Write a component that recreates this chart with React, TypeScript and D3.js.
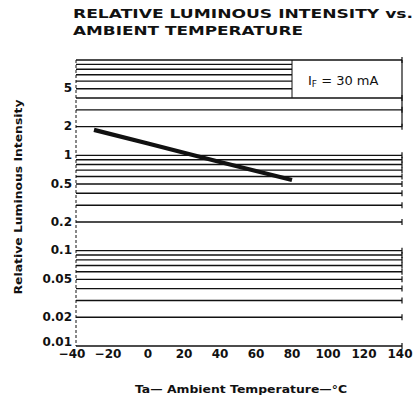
import React from "react";
import * as d3 from "d3";

const titleLines = ["RELATIVE LUMINOUS INTENSITY vs.", "AMBIENT TEMPERATURE"];
const xTicks = [-40, -20, 0, 20, 40, 60, 80, 100, 120, 140];
const yTickValues = [5, 2, 1, 0.5, 0.2, 0.1, 0.05, 0.02, 0.01];
const yTickLabels = ["5", "2", "1", "0.5", "0.2", "0.1", "0.05", "0.02", "0.01"];
const decades = [0.01, 0.1, 1];
const multipliers = [1, 2, 3, 4, 5, 6, 7, 8, 9];
const temps = [-30, 0, 40, 80];
const intensity = [1.85, 1.33, 0.85, 0.55];
const legendText = { main: "I", sub: "F", rest: " = 30 mA" };
const xTitle = "Ta\u2014 Ambient  Temperature\u2014\u00B0C";
const yTitle = "Relative Luminous Intensity";

const W = 420;
const H = 402;
const left = 76;
const right = 400;
const gridRight = 402;
const top = 60;
const bottom = 346;

export default function App() {
  const x = d3.scaleLinear().domain([-40, 140]).range([left, right]);
  const y = d3.scaleLog().domain([0.01, 10]).range([bottom, top]);

  const gridVals: number[] = [];
  decades.forEach((d) => multipliers.forEach((m) => gridVals.push(+(d * m).toPrecision(3))));
  gridVals.push(10);

  const boxX = x(80);
  const boxBottom = y(4);

  const line = d3
    .line<number>()
    .x((_, i) => x(temps[i]))
    .y((v) => y(v));

  const font = "'DejaVu Sans', Arial, sans-serif";

  return (
    <svg
      width={W}
      height={H}
      viewBox={`0 0 ${W} ${H}`}
      style={{ position: "absolute", left: 0, top: 0, background: "#fff" }}
    >
      <rect x={0} y={0} width={W} height={H} fill="#fff" />
      {/* Title */}
      <text x={73} y={17.5} fontFamily={font} fontWeight="bold" fontSize={12} textLength={340} lengthAdjust="spacingAndGlyphs" fill="#111">
        {titleLines[0]}
      </text>
      <text x={73} y={34.5} fontFamily={font} fontWeight="bold" fontSize={12} textLength={230} lengthAdjust="spacingAndGlyphs" fill="#111">
        {titleLines[1]}
      </text>

      {/* Grid lines */}
      {gridVals.map((v, i) => {
        const inBox = v > 4 && v < 10;
        return (
          <line
            key={i}
            x1={left}
            x2={inBox ? boxX : gridRight}
            y1={y(v)}
            y2={y(v)}
            stroke="#111"
            strokeWidth={1.4}
          />
        );
      })}
      {/* right end caps */}
      {gridVals.map((v, i) =>
        v > 4 && v < 10 ? null : (
          <line key={"c" + i} x1={gridRight} x2={gridRight} y1={y(v) - 3} y2={y(v) + 3} stroke="#111" strokeWidth={1.2} />
        )
      )}
      {/* legend box */}
      <line x1={boxX} x2={boxX} y1={y(10)} y2={boxBottom} stroke="#111" strokeWidth={1} />
      <line x1={gridRight} x2={gridRight} y1={y(10)} y2={y(2)} stroke="#111" strokeWidth={1.2} />
      <text x={308} y={85} fontFamily={font} fontSize={13} fill="#111">
        {legendText.main}
        <tspan fontSize={9} dy={2}>{legendText.sub}</tspan>
        <tspan dy={-2}>{legendText.rest}</tspan>
      </text>

      {/* left axis */}
      <line x1={left} x2={left} y1={top} y2={bottom} stroke="#111" strokeWidth={1} strokeDasharray="3,2" />

      {/* data line */}
      <path d={line(intensity) || ""} fill="none" stroke="#111" strokeWidth={4.2} strokeLinecap="butt" />

      {/* y tick labels */}
      {yTickValues.map((v, i) => (
        <text
          key={i}
          x={72}
          y={y(v)}
          dy={v === 0.01 ? "0em" : "0.3em"}
          textAnchor="end"
          fontFamily={font}
          fontWeight="bold"
          fontSize={12}
          fill="#111"
        >
          {yTickLabels[i]}
        </text>
      ))}

      {/* x tick labels */}
      {xTicks.map((t) => (
        <text key={t} x={x(t) - (t < 0 ? 4 : 0)} y={358} textAnchor="middle" fontFamily={font} fontWeight="bold" fontSize={12} fill="#111">
          {t < 0 ? "\u2212" + Math.abs(t) : String(t)}
        </text>
      ))}

      {/* axis titles */}
      <text x={241} y={393} textAnchor="middle" fontFamily={font} fontWeight="bold" fontSize={11} textLength={212} lengthAdjust="spacingAndGlyphs" fill="#111">
        {xTitle}
      </text>
      <text
        transform={`translate(22, 197) rotate(-90)`}
        textAnchor="middle"
        fontFamily={font}
        fontWeight="bold"
        fontSize={11}
        textLength={195}
        lengthAdjust="spacingAndGlyphs"
        fill="#111"
      >
        {yTitle}
      </text>
    </svg>
  );
}
